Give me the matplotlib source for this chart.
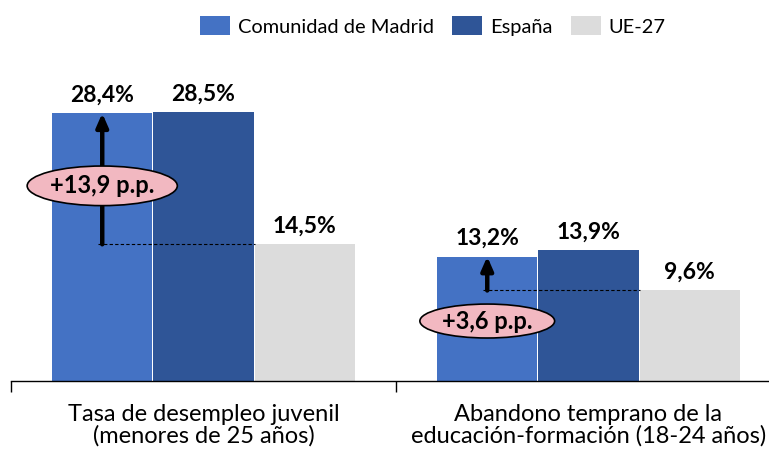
import matplotlib
matplotlib.use("Agg")
import matplotlib.pyplot as plt
from matplotlib.patches import Ellipse, Patch
import numpy as np

plt.rcParams["font.family"] = ["Lato", "DejaVu Sans"]

categorias = ["Tasa de desempleo juvenil\n(menores de 25 años)",
              "Abandono temprano de la\neducación-formación (18-24 años)"]
series = ["Comunidad de Madrid", "España", "UE-27"]
madrid = [28.4, 13.2]
espana = [28.5, 13.9]
ue27 = [14.5, 9.6]
diferencias = ["+13,9 p.p.", "+3,6 p.p."]
colores = ["#4472C4", "#2F5597", "#DCDCDC"]

fig = plt.figure(figsize=(7.69, 4.53), dpi=100)
ax = fig.add_axes([11 / 769, 72 / 453, 758 / 769, 330 / 453])

x = np.arange(len(categorias))
ancho = 0.26
sep = 0.263
for i, (vals, col) in enumerate(zip([madrid, espana, ue27], colores)):
    pos = x + (i - 1) * sep
    ax.bar(pos, vals, ancho, color=col, edgecolor="none", zorder=2)
    for p, v in zip(pos, vals):
        ax.text(p, v + 0.8, f"{v:.1f}%".replace(".", ","), ha="center", va="bottom",
                fontsize=16.5, fontweight="bold", color="black")

# flechas de diferencia y elipses
elipse_y = [20.7, 6.36]
elipse_w = [0.39, 0.35]
elipse_h = [4.2, 3.6]
for k in range(len(categorias)):
    xm = x[k] - sep
    ax.plot([xm - 0.012, x[k] + sep - ancho / 2], [ue27[k], ue27[k]],
            color="black", lw=0.8, ls=(0, (3, 2)), zorder=3)
    ax.annotate("", xy=(xm, madrid[k]), xytext=(xm, ue27[k]),
                arrowprops=dict(arrowstyle="-|>,head_width=0.35,head_length=0.8",
                                lw=3.2, color="black", shrinkA=0, shrinkB=0), zorder=4)
    ax.add_patch(Ellipse((xm, elipse_y[k]), elipse_w[k], elipse_h[k],
                         facecolor="#F2B8C1", edgecolor="black", lw=1.2, zorder=5))
    ax.text(xm, elipse_y[k], diferencias[k], ha="center", va="center",
            fontsize=17, fontweight="bold", zorder=6)

for s in ["top", "right", "left"]:
    ax.spines[s].set_visible(False)
ax.spines["bottom"].set_linewidth(1.0)
ax.set_yticks([])
ax.set_xticks(x)
ax.set_xticklabels(categorias, fontsize=17, linespacing=1.02)
ax.tick_params(axis="x", which="major", length=0, pad=16.5)
ax.set_xticks([-0.5, 0.5], minor=True)
ax.tick_params(axis="x", which="minor", length=8, width=1.0, direction="out")
ax.set_xlim(-0.5, -0.5 + 758 / 385)
ax.set_ylim(0, 35)

handles = [Patch(facecolor=c, edgecolor="none") for c in colores]
fig.legend(handles, series, loc="center", bbox_to_anchor=(0.563, 0.943), ncol=3,
           frameon=False, fontsize=14.4, handlelength=1.5, handleheight=1.1,
           columnspacing=0.9, handletextpad=0.4)

plt.savefig("out.png", dpi=100)
plt.close()
